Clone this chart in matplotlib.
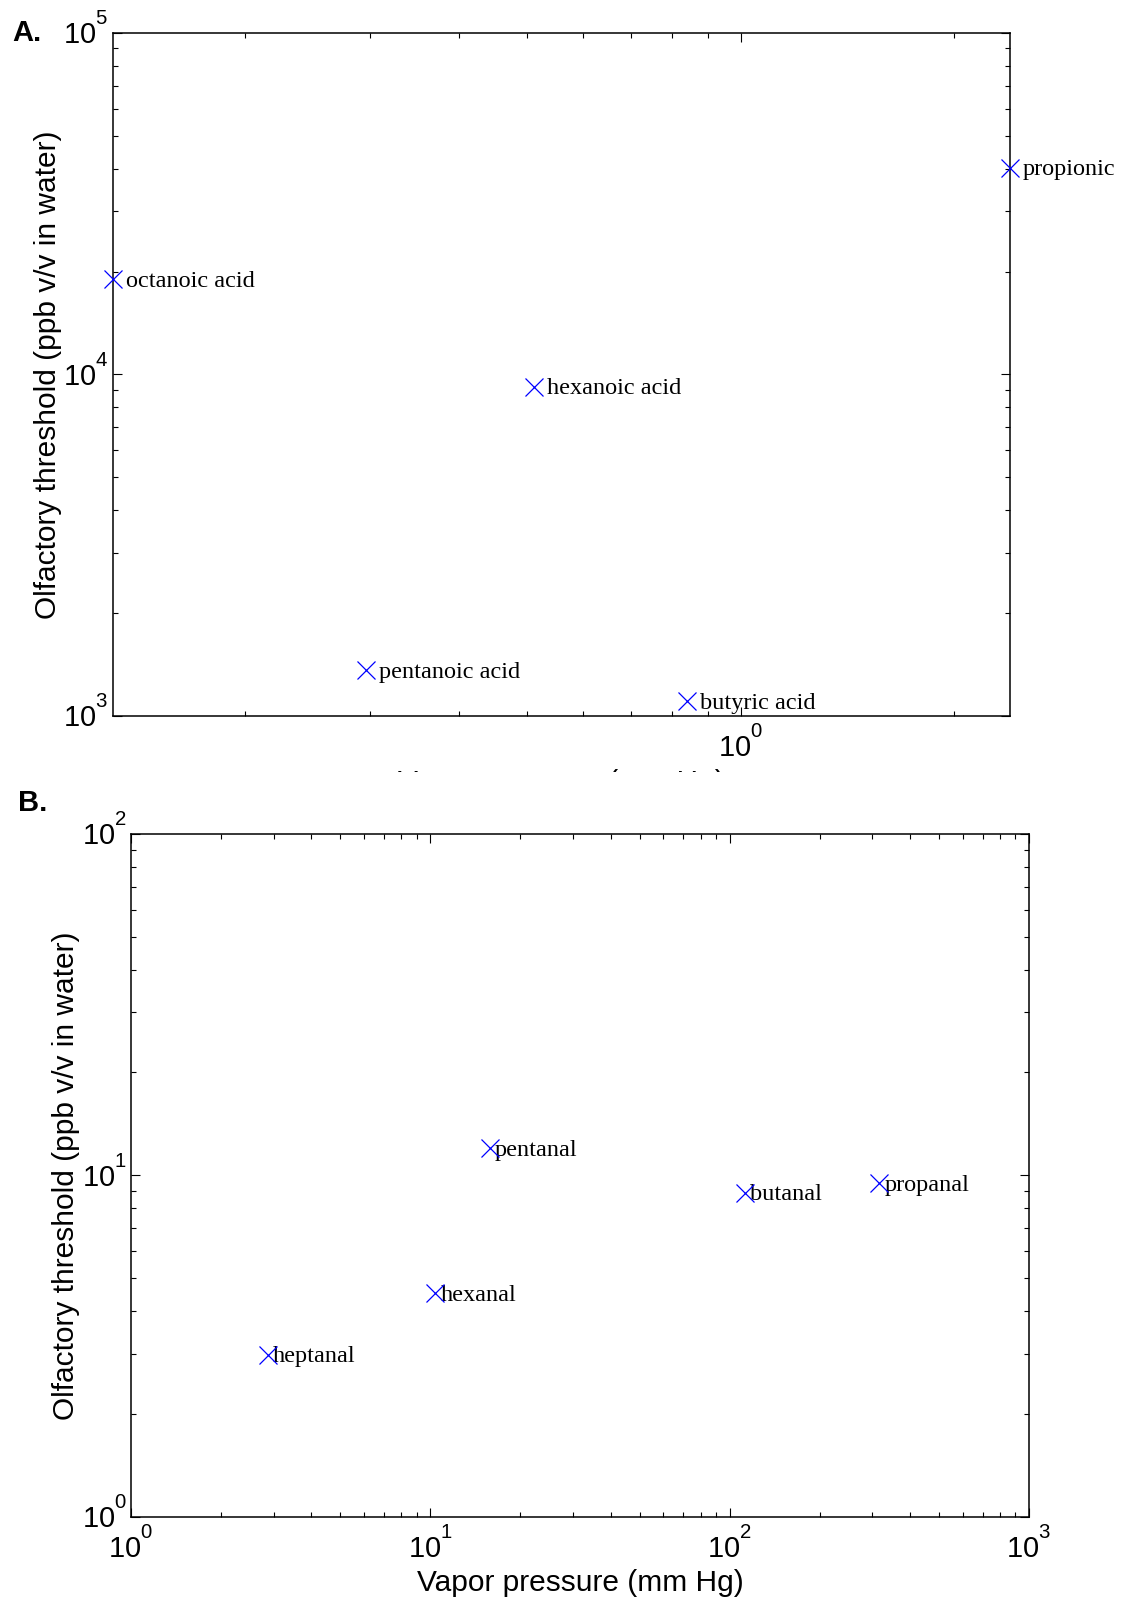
import numpy as np
import matplotlib
matplotlib.use("Agg")
import matplotlib.pyplot as plt
from matplotlib import _mathtext
from matplotlib.ticker import LogLocator, NullFormatter
from matplotlib.transforms import Bbox, TransformedBbox, ScaledTranslation

plt.rcParams['font.family'] = ['Liberation Sans', 'DejaVu Sans']
plt.rcParams['mathtext.fontset'] = 'custom'
plt.rcParams['mathtext.rm'] = 'Liberation Sans'
plt.rcParams['mathtext.it'] = 'Liberation Sans:italic'
plt.rcParams['mathtext.bf'] = 'Liberation Sans:bold'
# exponents sit just above the "10", as in MATLAB tick labels
_mathtext.FontConstantsBase.sup1 = 1.2

# A: carboxylic acids
acids = ['octanoic acid', 'pentanoic acid', 'hexanoic acid', 'butyric acid', 'propionic']
acid_vp = [0.13, 0.296, 0.511, 0.841, 2.4]
acid_thr = [19000, 1360, 9200, 1106, 40250]

# B: aldehydes
aldehydes = ['heptanal', 'hexanal', 'pentanal', 'butanal', 'propanal']
ald_vp = [2.875, 10.4, 15.8, 112.6, 316]
ald_thr = [2.98, 4.51, 12.0, 8.89, 9.48]

xlab = 'Vapor pressure (mm Hg)'
ylab = 'Olfactory threshold (ppb v/v in water)'


def style_axes(ax):
    ax.set_xscale('log')
    ax.set_yscale('log')
    for s in ax.spines.values():
        s.set_linewidth(1.1)
    ax.tick_params(which='both', direction='in', top=True, right=True, width=0.8)
    ax.tick_params(which='major', length=6.5, labelsize=21)
    ax.tick_params(axis='x', which='major', pad=7)
    ax.tick_params(axis='y', which='major', pad=3)
    ax.tick_params(which='minor', length=3.5)
    ax.xaxis.set_minor_locator(LogLocator(base=10, subs=np.arange(2, 10), numticks=20))
    ax.yaxis.set_minor_locator(LogLocator(base=10, subs=np.arange(2, 10), numticks=20))
    ax.xaxis.set_minor_formatter(NullFormatter())
    ax.yaxis.set_minor_formatter(NullFormatter())
    ax.set_xlabel(xlab, fontsize=21.5, labelpad=4)
    ax.set_ylabel(ylab, fontsize=21.5, labelpad=1)


def nudge_yticklabels(ax, fig):
    # center the "10" part on the tick rather than the baseline
    shift = ScaledTranslation(0, 3 / 72, fig.dpi_scale_trans)
    for t in ax.get_yticklabels():
        t.set_transform(t.get_transform() + shift)


def label_points(ax, names, xs, ys, dx):
    ax.plot(xs, ys, 'x', color='blue', markersize=13, mew=0.9, clip_on=False, zorder=5)
    for n, x, y in zip(names, xs, ys):
        ax.annotate(n, (x, y), xytext=(dx, -1.5), textcoords='offset points',
                    va='center', ha='left', fontsize=17.5, family='Liberation Serif',
                    annotation_clip=False)


fig = plt.figure(figsize=(11.29, 16.04), dpi=100)

ax1 = fig.add_axes([0.0998, 0.5536, 0.7948, 0.426])
style_axes(ax1)
label_points(ax1, acids, acid_vp, acid_thr, 9.4)
ax1.set_xlim(min(acid_vp), max(acid_vp))
ax1.set_ylim(1e3, 1e5)
ax1.set_xticks([1])
ax1.set_yticks([1e3, 1e4, 1e5])
nudge_yticklabels(ax1, fig)
# panel A's x label sits under panel B, only its top edge shows
lab = ax1.xaxis.label
lab.set_clip_box(TransformedBbox(Bbox([[0, 0.5184], [1, 1]]), fig.transFigure))
lab.set_clip_on(True)

ax2 = fig.add_axes([0.116, 0.0545, 0.7954, 0.4256])
style_axes(ax2)
label_points(ax2, aldehydes, ald_vp, ald_thr, 3.6)
ax2.set_xlim(1, 1e3)
ax2.set_ylim(1, 1e2)
ax2.set_xticks([1, 10, 100, 1000])
ax2.set_yticks([1, 10, 100])
nudge_yticklabels(ax2, fig)

fig.text(0.011, 0.9795, 'A.', fontsize=21, fontweight='bold', va='center', ha='left')
fig.text(0.016, 0.4996, 'B.', fontsize=21, fontweight='bold', va='center', ha='left')

fig.savefig('out.png', dpi=100)
